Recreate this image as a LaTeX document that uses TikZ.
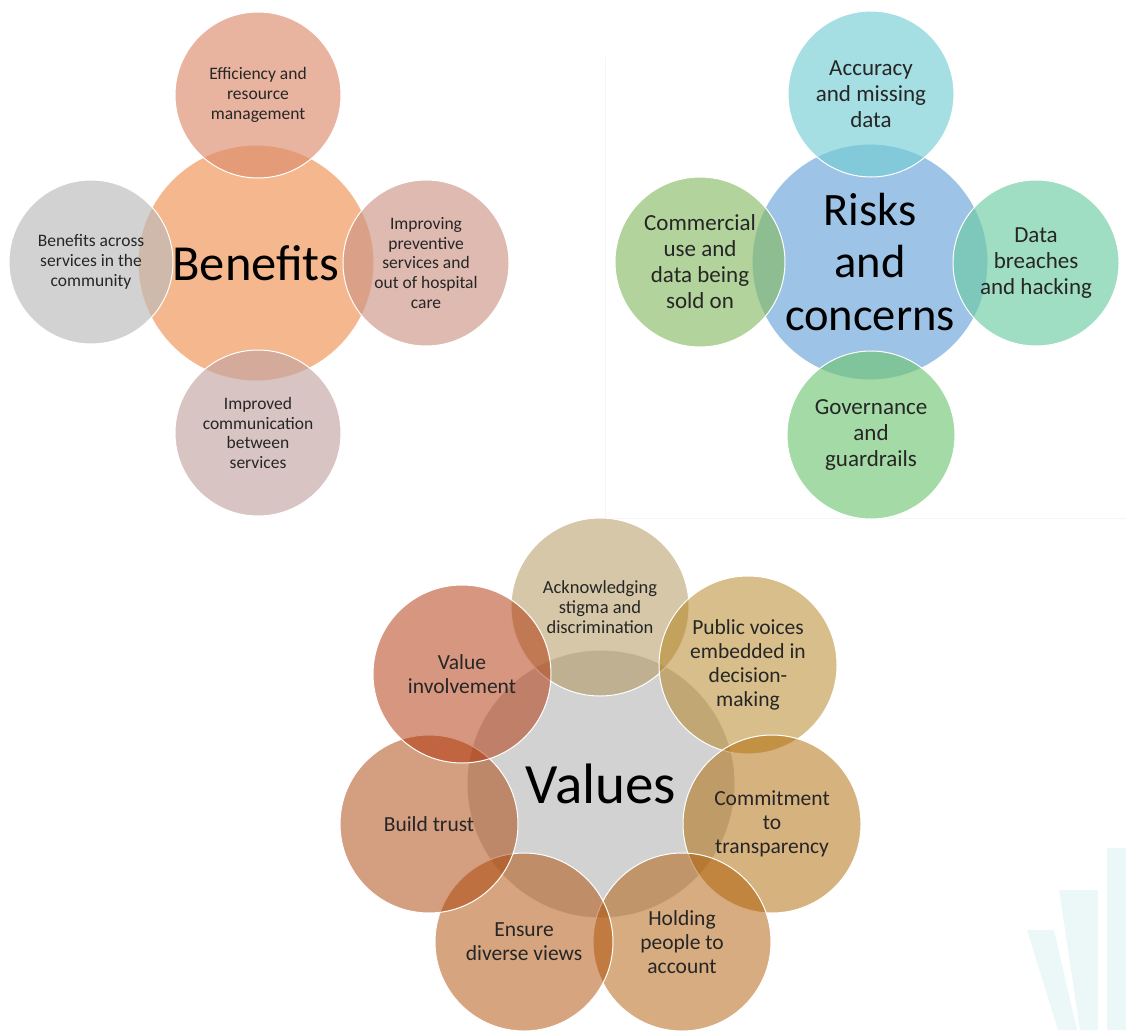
\documentclass[tikz,border=0pt]{standalone}
\usepackage{fontspec}
\setmainfont{Carlito}
\usepackage{xcolor}
\usepackage{tikz}
\definecolor{benorange}{RGB}{245,184,142}
\definecolor{benrose}{RGB}{220,140,109}
\definecolor{bengrey}{RGB}{186,186,186}
\definecolor{benpink}{RGB}{204,149,133}
\definecolor{benmauve}{RGB}{195,164,161}
\definecolor{riskblue}{RGB}{157,195,230}
\definecolor{riskcyan}{RGB}{117,206,212}
\definecolor{riskolive}{RGB}{137,187,101}
\definecolor{riskteal}{RGB}{109,204,163}
\definecolor{riskgreen}{RGB}{113,198,117}
\definecolor{valgrey}{RGB}{210,210,210}
\definecolor{valsand}{RGB}{171,143,79}
\definecolor{valgold}{RGB}{177,125,21}
\definecolor{valochre}{RGB}{173,101,0}
\definecolor{valtan}{RGB}{173,89,1}
\definecolor{valclay}{RGB}{173,75,1}
\definecolor{valbrick}{RGB}{169,61,1}
\definecolor{valrust}{RGB}{173,45,0}
\definecolor{wmark}{RGB}{236,248,248}

\begin{document}
\begin{tikzpicture}[x=1pt, y=-1pt,
  hub/.style={circle, inner sep=0pt, align=center, draw=white, line width=1pt, text=black},
  bubble/.style={circle, inner sep=0pt, align=center, draw=white, line width=1pt,
    text=black!85, text opacity=1}]
\useasboundingbox (0,0) rectangle (1126,1030);

% panel edge and corner mark
\draw[black!4, line width=1pt] (605,57) -- (605,518) -- (1126,518);
\fill[wmark] (1107,848) rectangle (1126,1030);
\fill[wmark] (1059,890) -- (1098,890) -- (1098,1030) -- (1080,1030) -- cycle;
\fill[wmark] (1027,930) -- (1054,930) -- (1077,1030) -- (1058,1030) -- cycle;

% benefits
\node[hub, fill=benorange, minimum size=236pt, font=\fontsize{50.5}{60}\selectfont] (ben) at (256,263) {Benefits};
\node[bubble, fill=benrose, fill opacity=0.65, minimum size=166pt, font=\fontsize{17.5}{19.7}\selectfont] (eff) at (258,95) {Efficiency and\\resource\\management};
\node[bubble, fill=bengrey, fill opacity=0.65, minimum size=164pt, font=\fontsize{17.5}{19.7}\selectfont] (comm) at (91,262) {Benefits across\\services in the\\community};
\node[bubble, fill=benpink, fill opacity=0.65, minimum size=166pt, font=\fontsize{17.5}{19.7}\selectfont] (prev) at (426,263) {Improving\\preventive\\services and\\out of hospital\\care};
\node[bubble, fill=benmauve, fill opacity=0.65, minimum size=166pt, font=\fontsize{17.5}{19.7}\selectfont] (link) at (258,433) {Improved\\communication\\between\\services};

% risks and concerns
\node[hub, fill=riskblue, minimum size=236pt, font=\fontsize{46.5}{52.5}\selectfont] (risk) at (870,262) {Risks\\and\\concerns};
\node[bubble, fill=riskcyan, fill opacity=0.65, minimum size=166pt, font=\fontsize{23}{26}\selectfont] (acc) at (871,94) {Accuracy\\and missing\\data};
\node[bubble, fill=riskolive, fill opacity=0.65, minimum size=170pt, font=\fontsize{23}{26}\selectfont] (sale) at (700,262) {Commercial\\use and\\data being\\sold on};
\node[bubble, fill=riskteal, fill opacity=0.65, minimum size=166pt, font=\fontsize{23}{26}\selectfont] (hack) at (1036,263) {Data\\breaches\\and hacking};
\node[bubble, fill=riskgreen, fill opacity=0.65, minimum size=168pt, font=\fontsize{23}{26}\selectfont] (gov) at (871,435) {Governance\\and\\guardrails};

% values
\node[hub, fill=valgrey, minimum size=268pt, font=\fontsize{57}{68}\selectfont] (val) at (601,784) {Values};
\node[bubble, fill=valsand, fill opacity=0.5, minimum size=178pt, font=\fontsize{18.5}{19.7}\selectfont] (stigma) at (600,607) {Acknowledging\\stigma and\\discrimination};
\node[bubble, fill=valgold, fill opacity=0.5, minimum size=178pt, font=\fontsize{21.5}{24.2}\selectfont] (voice) at (748,665) {Public voices\\embedded in\\decision-\\making};
\node[bubble, fill=valochre, fill opacity=0.5, minimum size=178pt, font=\fontsize{21.5}{24.2}\selectfont] (open) at (772,824) {Commitment\\to\\transparency};
\node[bubble, fill=valtan, fill opacity=0.5, minimum size=178pt, font=\fontsize{21.5}{24.2}\selectfont] (account) at (682,942) {Holding\\people to\\account};
\node[bubble, fill=valclay, fill opacity=0.5, minimum size=178pt, font=\fontsize{21.5}{24.2}\selectfont] (diverse) at (524,942) {Ensure\\diverse views};
\node[bubble, fill=valbrick, fill opacity=0.5, minimum size=178pt, font=\fontsize{21.5}{24.2}\selectfont] (trust) at (429,824) {Build trust};
\node[bubble, fill=valrust, fill opacity=0.5, minimum size=178pt, font=\fontsize{21.5}{24.2}\selectfont] (involve) at (462,674) {Value\\involvement};
\end{tikzpicture}
\end{document}
